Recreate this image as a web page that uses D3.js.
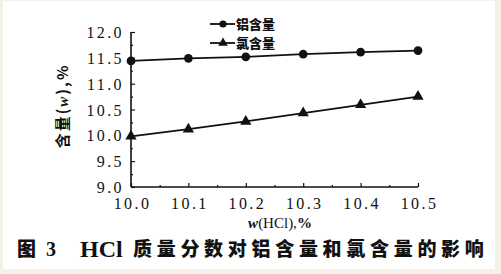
<!DOCTYPE html>
<html>
<head>
<meta charset="utf-8">
<script src="https://cdn.jsdelivr.net/npm/d3@7"></script>
<style>
  html, body { margin: 0; padding: 0; background: #f6f1e6; }
  svg { display: block; }
</style>
</head>
<body>
<div id="chart"></div>
<script>
// data
const hcl = [10.0, 10.1, 10.2, 10.3, 10.4, 10.5];
const aluminium = [11.44, 11.49, 11.52, 11.57, 11.61, 11.64];
const chlorine = [9.98, 10.12, 10.27, 10.43, 10.59, 10.75];
const xTicks = [10.0, 10.1, 10.2, 10.3, 10.4, 10.5];
const yTicks = [9.0, 9.5, 10.0, 10.5, 11.0, 11.5, 12.0];
const seriesNames = ["铝含量", "氯含量"];

const W = 501, H = 274;
const margin = { top: 32, right: 83, bottom: 87, left: 131 },
  width = W - margin.left - margin.right,
  height = H - margin.top - margin.bottom;

const root = d3.select("#chart").append("svg").attr("width", W).attr("height", H);

// white paper area
root.append("rect").attr("x", 3).attr("y", 1).attr("width", 492).attr("height", 268).attr("fill", "#ffffff");

const svg = root.append("g").attr("transform", "translate(" + margin.left + "," + margin.top + ")");

const x = d3.scaleLinear().domain([10.0, 10.5]).range([0, width]);
const y = d3.scaleLinear().domain([9.0, 12.0]).range([height, 0]);

const tickFont = "'Liberation Serif', serif";

// minor ticks
svg.append("g")
  .attr("transform", "translate(0," + height + ")")
  .call(d3.axisTop(x).tickValues(d3.range(10.05, 10.5, 0.1)).tickSize(2).tickFormat(""))
  .call((g) => g.select(".domain").remove());
svg.append("g")
  .call(d3.axisRight(y).tickValues(d3.range(9.25, 12, 0.5)).tickSize(2).tickFormat(""))
  .call((g) => g.select(".domain").remove());

// major ticks (inward)
const xAxis = svg.append("g")
  .attr("transform", "translate(0," + height + ")")
  .call(d3.axisTop(x).tickValues(xTicks).tickSize(4).tickFormat(d3.format(".1f")));
xAxis.selectAll("text")
  .attr("x", 1)
  .attr("y", 22)
  .attr("dy", 0)
  .style("font-family", tickFont)
  .style("font-size", "16px")
  .style("letter-spacing", "2.4px")
  .attr("fill", "#111");

const yAxis = svg.append("g")
  .call(d3.axisRight(y).tickValues(yTicks).tickSize(4).tickFormat(d3.format(".1f")));
yAxis.selectAll("text")
  .attr("x", -7)
  .attr("dy", "0.35em")
  .style("text-anchor", "end")
  .style("font-family", tickFont)
  .style("font-size", "16px")
  .style("letter-spacing", "2.4px")
  .attr("fill", "#111");

svg.selectAll(".tick line").attr("stroke", "#111").attr("stroke-width", 1.2);
yAxis.select(".domain").attr("d", "M0,0V" + height).attr("stroke", "#111").attr("stroke-width", 1.6);
xAxis.select(".domain").attr("d", "M0,0H" + width).attr("stroke", "#111").attr("stroke-width", 1.6);

const line = d3.line().x((d) => x(d[0])).y((d) => y(d[1]));
const alData = hcl.map((v, i) => [v, aluminium[i]]);
const clData = hcl.map((v, i) => [v, chlorine[i]]);

svg.append("path").datum(alData).attr("d", line).attr("fill", "none").attr("stroke", "#111").attr("stroke-width", 1.8);
svg.append("path").datum(clData).attr("d", line).attr("fill", "none").attr("stroke", "#111").attr("stroke-width", 1.8);

const circle = d3.symbol().type(d3.symbolCircle).size(60);
const tri = d3.symbol().type(d3.symbolTriangle).size(55);

svg.selectAll(".al")
  .data(alData)
  .enter()
  .append("path")
  .attr("class", "al")
  .attr("d", circle)
  .attr("transform", (d) => "translate(" + x(d[0]) + "," + y(d[1]) + ")")
  .attr("fill", "#111");

svg.selectAll(".cl")
  .data(clData)
  .enter()
  .append("path")
  .attr("class", "cl")
  .attr("d", tri)
  .attr("transform", (d) => "translate(" + x(d[0]) + "," + y(d[1]) + ")")
  .attr("fill", "#111");

// legend
const legend = root.append("g").attr("transform", "translate(210,24)");
[d3.symbolCircle, d3.symbolTriangle].forEach((type, i) => {
  const g = legend.append("g").attr("transform", "translate(0," + i * 19 + ")");
  g.append("line").attr("x1", 0).attr("x2", 25).attr("y1", 0).attr("y2", 0).attr("stroke", "#111").attr("stroke-width", 1.8);
  g.append("path").attr("d", d3.symbol().type(type).size(40))
    .attr("transform", "translate(13,0)").attr("fill", "#111");
  g.append("text")
    .attr("x", 26)
    .attr("dy", "0.35em")
    .style("font-family", "'Noto Sans CJK SC'")
    .style("font-weight", "900")
    .style("font-size", "13px")
    .attr("fill", "#111")
    .text(seriesNames[i]);
});

// axis titles
const yTitle = root.append("text")
  .attr("transform", "translate(63,106) rotate(-90)")
  .attr("text-anchor", "middle")
  .attr("dy", "0.35em")
  .style("font-family", "'Noto Sans CJK SC'")
  .style("font-weight", "bold")
  .style("font-size", "15px")
  .style("letter-spacing", "2px")
  .attr("fill", "#111");
yTitle.append("tspan").text("含量(");
yTitle.append("tspan").style("font-style", "italic").style("font-family", "'Liberation Serif'").text("w");
yTitle.append("tspan").text("),%");

const xTitle = root.append("text")
  .attr("x", 280)
  .attr("y", 223)
  .attr("text-anchor", "middle")
  .attr("dy", "0.35em")
  .style("font-family", "'Liberation Serif'")
  .style("font-size", "15px")
  .attr("fill", "#111");
xTitle.append("tspan").style("font-style", "italic").style("font-weight", "bold").text("w");
xTitle.append("tspan").text("(HCl),");
xTitle.append("tspan").style("font-weight", "bold").text("%");

// caption
const cap = root.append("g").attr("transform", "translate(0,249)");
cap.append("text")
  .attr("x", 17)
  .attr("dy", "0.35em")
  .style("font-family", "'Noto Sans CJK SC'")
  .style("font-weight", "900")
  .style("font-size", "19px")
  .attr("fill", "#111")
  .text("图");
cap.append("text")
  .attr("x", 46)
  .attr("dy", "0.35em")
  .style("font-family", "'Liberation Serif'")
  .style("font-weight", "bold")
  .style("font-size", "20px")
  .attr("fill", "#111")
  .text("3");
cap.append("text")
  .attr("x", 80)
  .attr("dy", "0.35em")
  .style("font-family", "'Liberation Serif'")
  .style("font-weight", "bold")
  .style("font-size", "24px")
  .attr("fill", "#111")
  .text("HCl");
cap.append("text")
  .attr("x", 133)
  .attr("dy", "0.35em")
  .style("font-family", "'Noto Sans CJK SC'")
  .style("font-weight", "900")
  .style("font-size", "19px")
  .style("letter-spacing", "4.7px")
  .attr("fill", "#111")
  .text("质量分数对铝含量和氯含量的影响");
</script>
</body>
</html>
